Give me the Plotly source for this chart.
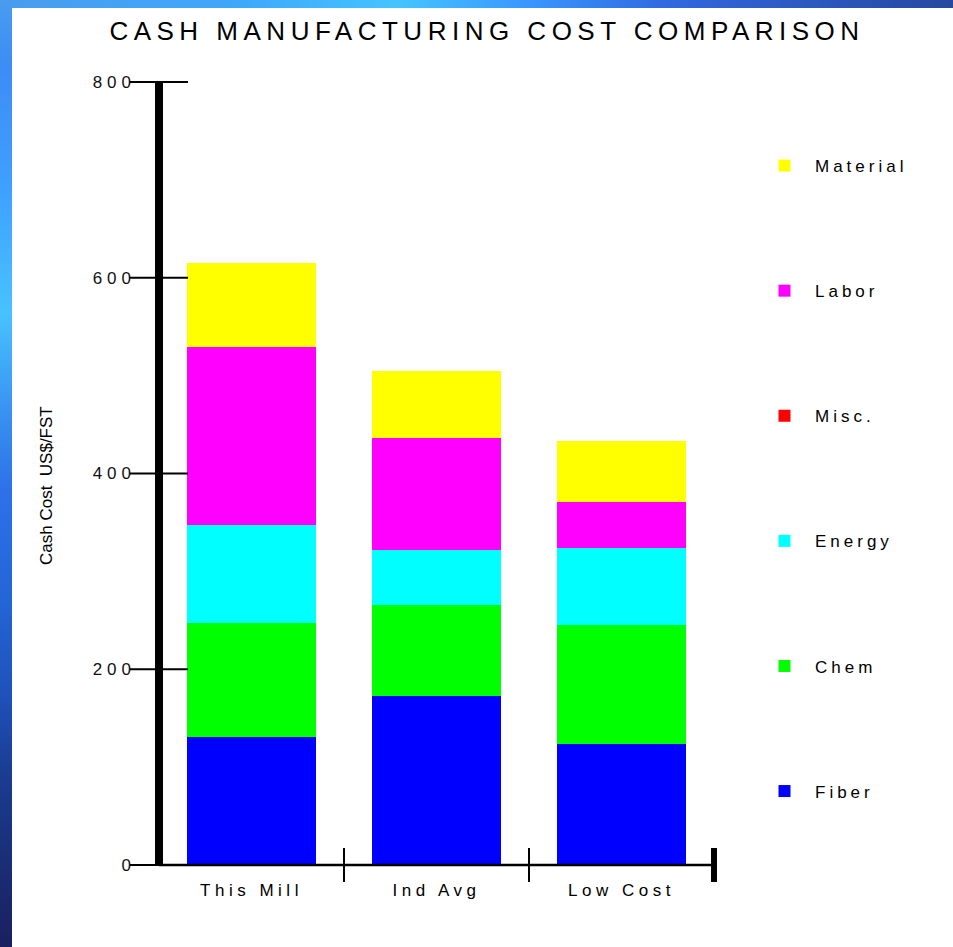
import base64
import plotly.graph_objects as go

# Cost categories and the per-mill cost components (US$/FST)
mills = ["This Mill", "Ind Avg", "Low Cost"]
fiber = [131, 173, 124]
chem = [116, 93, 121]
energy = [100, 56, 79]
misc = [0, 0, 0]
labor = [182, 114, 47]
material = [86, 69, 62]

y_ticks = [0, 200, 400, 600, 800]
y_max = 800

components = [
    ("Fiber", fiber, "#0000FF"),
    ("Chem", chem, "#00FF00"),
    ("Energy", energy, "#00FFFF"),
    ("Misc.", misc, "#FF0000"),
    ("Labor", labor, "#FF00FF"),
    ("Material", material, "#FFFF00"),
]


def spaced(text, px):
    return f'<span style="letter-spacing:{px}px">{text}</span>'


fig = go.Figure()
n_comp = len(components)
for k, (name, vals, color) in enumerate(components):
    fig.add_trace(go.Bar(
        x=mills, y=vals, name=spaced(name, 4),
        marker=dict(color=color, line=dict(width=0)),
        legendgroup=name,
        legendrank=n_comp - k,  # top of the stack first in the legend
    ))

W, H = 953, 947
ML, MR, MT, MB = 159, 239, 82, 82
plot_w = W - ML - MR
plot_h = H - MT - MB

# slide background: gradient bands along the left and top edges
bg_svg = f'''<svg xmlns="http://www.w3.org/2000/svg" width="{W}" height="{H}">
<defs>
<linearGradient id="lv" x1="0" y1="0" x2="0" y2="1">
<stop offset="0" stop-color="#4a9cf0"/>
<stop offset="0.07" stop-color="#3d8cf5"/>
<stop offset="0.2" stop-color="#3ea0ff"/>
<stop offset="0.33" stop-color="#48c2ff"/>
<stop offset="0.44" stop-color="#3890f0"/>
<stop offset="0.52" stop-color="#2d70e8"/>
<stop offset="0.63" stop-color="#2466d8"/>
<stop offset="0.74" stop-color="#1e50b8"/>
<stop offset="0.82" stop-color="#1a3c90"/>
<stop offset="0.92" stop-color="#1a2c74"/>
<stop offset="1" stop-color="#1a2060"/>
</linearGradient>
<linearGradient id="lh" x1="0" y1="0" x2="1" y2="0">
<stop offset="0" stop-color="#4a9cf0"/>
<stop offset="0.25" stop-color="#3ea8fa"/>
<stop offset="0.42" stop-color="#44c4ff"/>
<stop offset="0.55" stop-color="#3a98ff"/>
<stop offset="0.7" stop-color="#3068e0"/>
<stop offset="0.85" stop-color="#2c58c0"/>
<stop offset="1" stop-color="#2648a0"/>
</linearGradient>
</defs>
<rect x="0" y="0" width="{W}" height="{H}" fill="#ffffff"/>
<rect x="0" y="0" width="{W}" height="8" fill="url(#lh)"/>
<rect x="0" y="0" width="12" height="{H}" fill="url(#lv)"/>
</svg>'''
bg_src = "data:image/svg+xml;base64," + base64.b64encode(bg_svg.encode()).decode()

fig.add_layout_image(dict(
    source=bg_src, xref="paper", yref="paper",
    x=-ML / plot_w, y=1 + MT / plot_h,
    sizex=W / plot_w, sizey=H / plot_h,
    xanchor="left", yanchor="top", sizing="stretch", layer="below",
))

shapes = []
# thick vertical value axis
shapes.append(dict(type="line", xref="paper", yref="paper", x0=0, x1=0,
                   y0=0, y1=1, line=dict(color="black", width=8)))
# category baseline
shapes.append(dict(type="line", xref="paper", yref="paper", x0=0, x1=1,
                   y0=0, y1=0, line=dict(color="black", width=2.5)))
# value ticks crossing the axis
tick_half = 29 / plot_w
for v in y_ticks:
    yp = v / y_max
    shapes.append(dict(type="line", xref="paper", yref="paper",
                       x0=-tick_half, x1=tick_half, y0=yp, y1=yp,
                       line=dict(color="black", width=2)))
# category boundary ticks
sep_half = 17 / plot_h
n = len(mills)
for i in range(1, n + 1):
    xp = i / n
    shapes.append(dict(type="line", xref="paper", yref="paper",
                       x0=xp, x1=xp, y0=-sep_half, y1=sep_half,
                       line=dict(color="black", width=6 if i == n else 2)))

fig.update_layout(
    width=W, height=H,
    margin=dict(l=ML, r=MR, t=MT, b=MB, autoexpand=False),
    paper_bgcolor="white",
    plot_bgcolor="rgba(0,0,0,0)",
    barmode="stack",
    bargap=0.3,
    font=dict(family="Liberation Sans, Arial, sans-serif", color="#000000"),
    title=dict(
        text=spaced("CASH MANUFACTURING COST COMPARISON", 5.5),
        x=487 / W, xanchor="center", y=1 - 31 / H, yanchor="middle",
        font=dict(size=26, color="#000000"),
    ),
    xaxis=dict(
        range=[-0.5, n - 0.5], showgrid=False, zeroline=False, showline=False,
        ticks="", tickvals=list(range(n)),
        ticktext=[spaced(m, 4.5) for m in mills],
        tickfont=dict(size=17, color="#000000"),
        ticklabelstandoff=13,
    ),
    yaxis=dict(
        range=[0, y_max], showgrid=False, zeroline=False, showline=False,
        ticks="", tickvals=y_ticks,
        ticktext=[spaced(str(v), 5) for v in y_ticks],
        tickfont=dict(size=17, color="#111111"),
        ticklabelstandoff=22,
    ),
    legend=dict(
        x=(754 - ML) / plot_w, xanchor="left",
        y=1 - (148 - MT) / plot_h, yanchor="top",
        traceorder="grouped", tracegroupgap=100,
        itemwidth=51,
        font=dict(size=17, color="#000000"),
        bgcolor="rgba(0,0,0,0)",
    ),
    shapes=shapes,
    annotations=[dict(
        text="Cash Cost  US$/FST", textangle=-90,
        xref="paper", yref="paper",
        x=(46 - ML) / plot_w, y=(H - MB - 486) / plot_h,
        xanchor="center", yanchor="middle", showarrow=False,
        font=dict(size=17, color="#000000"),
    )],
)

fig.write_html("out.html")
